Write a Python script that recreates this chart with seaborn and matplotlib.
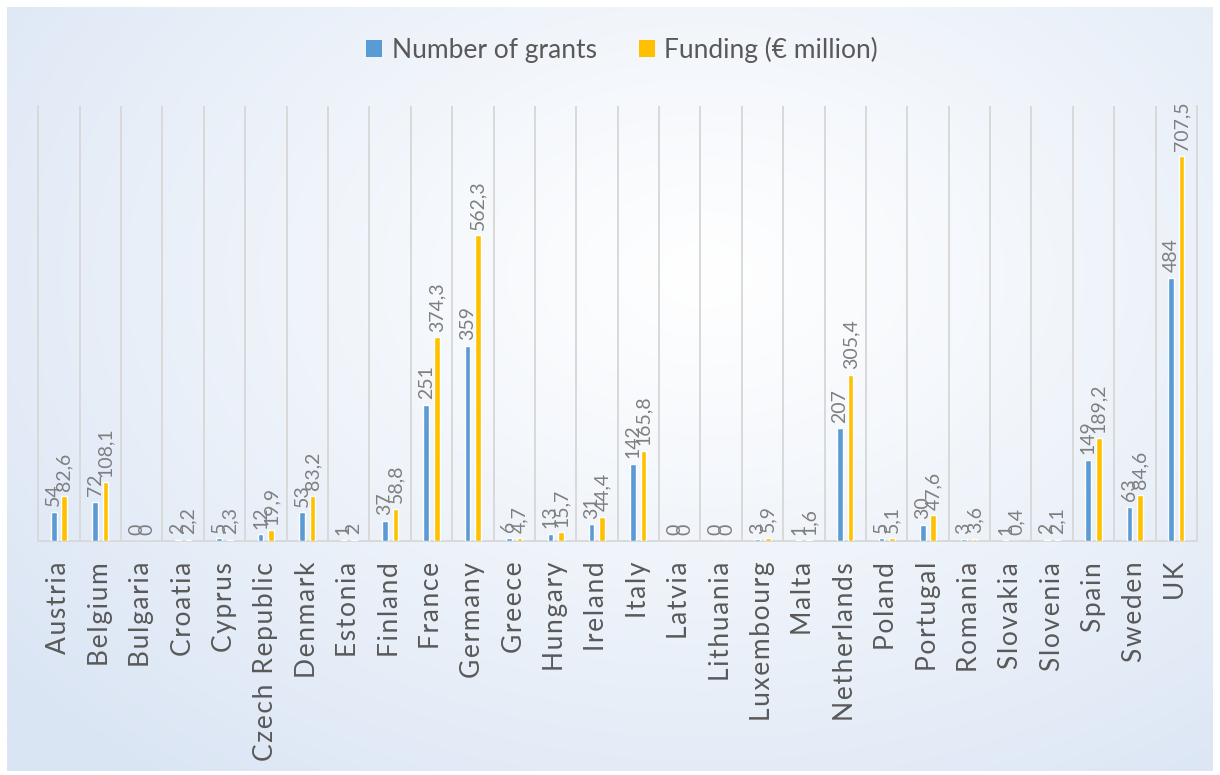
import numpy as np
import pandas as pd
import matplotlib
matplotlib.use("Agg")
import matplotlib.pyplot as plt
from matplotlib.patches import Patch
import seaborn as sns

# ---- data -------------------------------------------------------------
countries = ["Austria", "Belgium", "Bulgaria", "Croatia", "Cyprus",
             "Czech Republic", "Denmark", "Estonia", "Finland", "France",
             "Germany", "Greece", "Hungary", "Ireland", "Italy", "Latvia",
             "Lithuania", "Luxembourg", "Malta", "Netherlands", "Poland",
             "Portugal", "Romania", "Slovakia", "Slovenia", "Spain",
             "Sweden", "UK"]
grants = [54, 72, 0, 2, 5, 12, 53, 1, 37, 251, 359, 6, 13, 31, 142, 0, 0,
          3, 1, 207, 5, 30, 3, 1, 2, 149, 63, 484]
funding = [82.6, 108.1, 0, 2.2, 2.3, 19.9, 83.2, 2, 58.8, 374.3, 562.3, 4.7,
           15.7, 44.4, 165.8, 0, 0, 5.9, 1.6, 305.4, 5.1, 47.6, 3.6, 0.4,
           2.1, 189.2, 84.6, 707.5]
series_names = ["Number of grants", "Funding (€ million)"]
series_colors = ["#5B9BD5", "#FFC000"]

df = pd.DataFrame({
    "country": countries * 2,
    "series": [series_names[0]] * len(countries) + [series_names[1]] * len(countries),
    "value": grants + funding,
})


def fmt(v):
    """Whole numbers without decimals, otherwise one decimal with a comma."""
    if float(v).is_integer():
        return str(int(v))
    return f"{v:.1f}".replace(".", ",")


# ---- style ------------------------------------------------------------
sns.set_style("white")
plt.rcParams["font.family"] = ["Lato", "DejaVu Sans"]

W, H = 1220, 775
fig = plt.figure(figsize=(W / 100, H / 100), dpi=100)
fig.patch.set_facecolor("white")

# soft radial gradient behind the chart area
bg = fig.add_axes([7 / W, 4 / H, 1206 / W, 764 / H])
ny, nx = 200, 320
yy, xx = np.mgrid[0:1:ny * 1j, 0:1:nx * 1j]
r = np.sqrt(((xx - 0.58) / 0.75) ** 2 + ((yy - 0.35) / 0.85) ** 2)
r = np.clip(r, 0, 1) ** 1.1
white = np.array([1.0, 1.0, 1.0])
edge = np.array([0xDA, 0xE5, 0xF4]) / 255.0
img = white[None, None, :] * (1 - r[..., None]) + edge[None, None, :] * r[..., None]
bg.imshow(img, extent=[0, 1, 0, 1], aspect="auto", origin="upper",
          interpolation="bilinear")
bg.set_axis_off()

# ---- bars ---------------------------------------------------------------
ax = fig.add_axes([38.3 / W, (H - 541) / H, (1197 - 38.3) / W, (541 - 106) / H])
ax.patch.set_alpha(0)

sns.barplot(data=df, x="country", y="value", hue="series",
            hue_order=series_names, palette=series_colors, saturation=1,
            width=0.51, gap=0.47, errorbar=None, legend=False, ax=ax,
            zorder=3)

for cont, vals in zip(ax.containers, [grants, funding]):
    ax.bar_label(cont, labels=[fmt(v) for v in vals], rotation=90,
                 padding=4, color="#7f7f7f", fontsize=14)

ax.set_xlim(-0.5, len(countries) - 0.5)
ax.set_ylim(0, 800)
ax.set_xlabel("")
ax.set_ylabel("")
ax.set_yticks([])

grid_c = "#d9d9d9"
ax.set_xticks(np.arange(len(countries)))
ax.set_xticklabels(["\u200a".join(c) for c in countries], rotation=90,
                   fontsize=19, color="#595959")
ax.tick_params(axis="x", which="major", length=0, pad=15)
ax.set_xticks(np.arange(0.5, len(countries) - 1, 1), minor=True)
ax.tick_params(axis="x", which="minor", length=0)
ax.grid(axis="x", which="minor", color=grid_c, lw=1.4, zorder=0)
ax.grid(axis="x", which="major", visible=False)
ax.grid(axis="y", visible=False)

ax.spines["top"].set_visible(False)
for side in ("left", "right", "bottom"):
    ax.spines[side].set_color(grid_c)
    ax.spines[side].set_linewidth(1.4)

# ---- legend -------------------------------------------------------------
handles = [Patch(facecolor=c, edgecolor="none", label=n)
           for n, c in zip(series_names, series_colors)]
fig.legend(handles=handles, loc="center", bbox_to_anchor=(622 / W, 1 - 50 / H),
           ncol=2, frameon=False, fontsize=19, labelcolor="#595959",
           handlelength=0.62, handleheight=0.62, handletextpad=0.35,
           columnspacing=1.6)

fig.savefig("out.png", dpi=100)
